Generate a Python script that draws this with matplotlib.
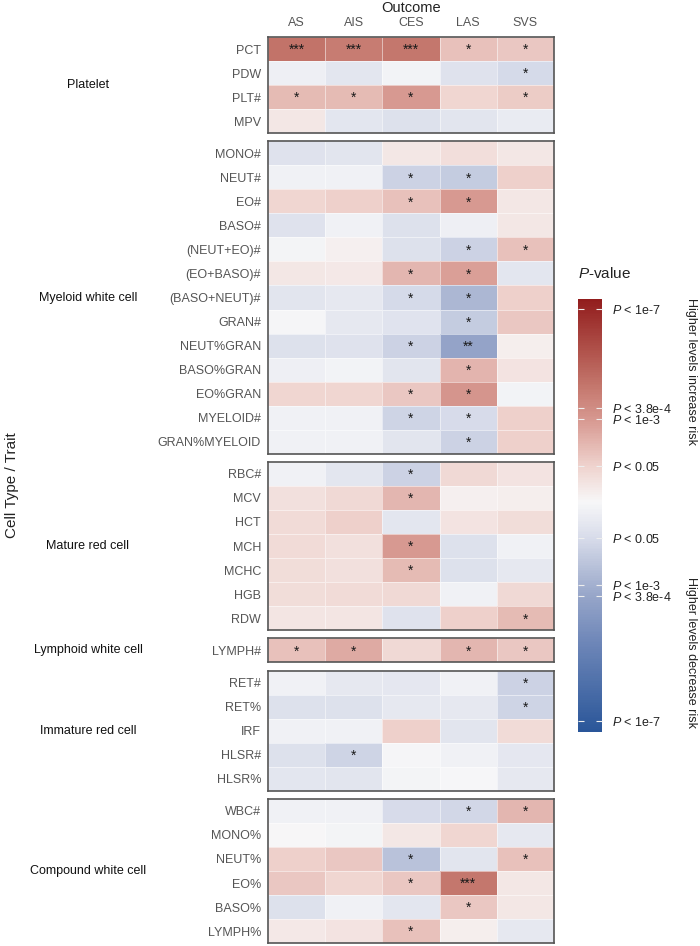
import numpy as np
import matplotlib
matplotlib.use("Agg")
import matplotlib.pyplot as plt
from matplotlib.colors import LinearSegmentedColormap, Normalize
from matplotlib.cm import ScalarMappable

plt.rcParams['font.family'] = ['Liberation Sans', 'DejaVu Sans']
plt.rcParams['mathtext.fontset'] = 'custom'
plt.rcParams['mathtext.it'] = 'Liberation Sans:italic'
plt.rcParams['mathtext.rm'] = 'Liberation Sans'

# outcomes (columns)
outcomes = ['AS', 'AIS', 'CES', 'LAS', 'SVS']

# groups and traits
group_names = ['Platelet', 'Myeloid white cell', 'Mature red cell',
               'Lymphoid white cell', 'Immature red cell', 'Compound white cell']

platelet_traits = ['PCT', 'PDW', 'PLT#', 'MPV']
myeloid_traits = ['MONO#', 'NEUT#', 'EO#', 'BASO#', '(NEUT+EO)#', '(EO+BASO)#',
                  '(BASO+NEUT)#', 'GRAN#', 'NEUT%GRAN', 'BASO%GRAN', 'EO%GRAN',
                  'MYELOID#', 'GRAN%MYELOID']
mature_traits = ['RBC#', 'MCV', 'HCT', 'MCH', 'MCHC', 'HGB', 'RDW']
lymphoid_traits = ['LYMPH#']
immature_traits = ['RET#', 'RET%', 'IRF', 'HLSR#', 'HLSR%']
compound_traits = ['WBC#', 'MONO%', 'NEUT%', 'EO%', 'BASO%', 'LYMPH%']

# signed -log10(P) (positive = higher levels increase risk)
platelet_vals = [[4.3, 4.0, 4.2, 1.8, 1.6],
                 [-0.4, -0.8, -0.2, -1.0, -1.4],
                 [2.0, 2.0, 3.0, 1.2, 1.5],
                 [0.6, -0.8, -1.1, -0.9, -0.6]]
myeloid_vals = [[-1.0, -0.9, 0.6, 0.9, 0.6],
                [-0.3, -0.25, -1.7, -1.9, 1.4],
                [1.2, 1.4, 1.8, 3.0, 0.6],
                [-1.0, -0.3, -1.1, -0.4, 0.6],
                [-0.15, 0.3, -1.1, -1.7, 1.8],
                [0.6, 0.5, 2.1, 2.8, -0.8],
                [-0.9, -0.7, -1.4, -2.7, 1.4],
                [-0.1, -0.7, -0.95, -1.9, 1.6],
                [-1.1, -1.0, -1.7, -3.5, 0.35],
                [-0.4, -0.2, -0.9, 2.2, 0.7],
                [1.2, 1.2, 1.6, 3.1, -0.2],
                [-0.25, -0.25, -1.6, -1.3, 1.4],
                [-0.25, -0.25, -0.9, -1.7, 1.35]]
mature_vals = [[-0.25, -0.8, -1.7, 1.1, 0.7],
               [0.8, 1.1, 2.1, 0.3, 0.35],
               [1.0, 1.4, -0.8, 0.7, 0.95],
               [1.0, 0.8, 3.0, -1.1, -0.25],
               [0.95, 0.85, 2.0, -1.05, -0.7],
               [0.95, 1.0, 1.1, -0.3, 1.1],
               [0.65, 0.65, -1.0, 1.4, 2.0]]
lymphoid_vals = [[1.8, 2.5, 1.1, 2.1, 1.6]]
immature_vals = [[-0.3, -0.7, -0.75, -0.3, -1.7],
                 [-1.1, -1.1, -0.7, -0.7, -1.6],
                 [-0.25, -0.25, 1.4, -0.9, 1.0],
                 [-1.1, -1.6, -0.1, -0.3, -0.75],
                 [-0.8, -0.9, -0.15, -0.05, -0.7]]
compound_vals = [[-0.25, -0.25, -1.3, -1.5, 2.1],
                 [0.0, -0.15, 0.6, 1.2, -0.7],
                 [1.4, 1.6, -2.3, -0.9, 1.8],
                 [1.6, 1.2, 1.6, 4.2, 0.6],
                 [-1.1, -0.25, -0.8, 1.6, 0.6],
                 [0.5, 0.7, 1.8, 0.35, -0.7]]

# significance stars
platelet_stars = [['***', '***', '***', '*', '*'],
                  ['', '', '', '', '*'],
                  ['*', '*', '*', '', '*'],
                  ['', '', '', '', '']]
myeloid_stars = [['', '', '', '', ''],
                 ['', '', '*', '*', ''],
                 ['', '', '*', '*', ''],
                 ['', '', '', '', ''],
                 ['', '', '', '*', '*'],
                 ['', '', '*', '*', ''],
                 ['', '', '*', '*', ''],
                 ['', '', '', '*', ''],
                 ['', '', '*', '**', ''],
                 ['', '', '', '*', ''],
                 ['', '', '*', '*', ''],
                 ['', '', '*', '*', ''],
                 ['', '', '', '*', '']]
mature_stars = [['', '', '*', '', ''],
                ['', '', '*', '', ''],
                ['', '', '', '', ''],
                ['', '', '*', '', ''],
                ['', '', '*', '', ''],
                ['', '', '', '', ''],
                ['', '', '', '', '*']]
lymphoid_stars = [['*', '*', '', '*', '*']]
immature_stars = [['', '', '', '', '*'],
                  ['', '', '', '', '*'],
                  ['', '', '', '', ''],
                  ['', '*', '', '', ''],
                  ['', '', '', '', '']]
compound_stars = [['', '', '', '*', '*'],
                  ['', '', '', '', ''],
                  ['', '', '*', '', '*'],
                  ['', '', '*', '***', ''],
                  ['', '', '', '*', ''],
                  ['', '', '*', '', '']]

# colorbar ticks
cbar_ticks = [7, 3.42, 3, 1.3, -1.3, -3, -3.42, -7.94]
cbar_labels = ['$P$ < 1e-7', '$P$ < 3.8e-4', '$P$ < 1e-3', '$P$ < 0.05',
               '$P$ < 0.05', '$P$ < 1e-3', '$P$ < 3.8e-4', '$P$ < 1e-7']

group_traits = [platelet_traits, myeloid_traits, mature_traits,
                lymphoid_traits, immature_traits, compound_traits]
group_vals = [platelet_vals, myeloid_vals, mature_vals,
              lymphoid_vals, immature_vals, compound_vals]
group_stars = [platelet_stars, myeloid_stars, mature_stars,
               lymphoid_stars, immature_stars, compound_stars]

# colormap
vmin, vmax = -8.33, 7.35
nodes = [(-8.33, '#2a5699'), (-5.0, '#7088b9'), (-3.4, '#97a6c9'),
         (-1.3, '#d8dcea'), (0.0, '#f7f7f8'), (1.3, '#efd3ce'),
         (3.0, '#d79890'), (4.2, '#c4776d'), (5.5, '#b0524b'), (7.35, '#921d1d')]
cmap = LinearSegmentedColormap.from_list(
    'pv', [((v - vmin) / (vmax - vmin), c) for v, c in nodes])
norm = Normalize(vmin=vmin, vmax=vmax)

W, H = 700, 946
fig = plt.figure(figsize=(7, 9.46), dpi=100)

x0, x1 = 268, 554
top = 37
row_h = 24.03
gap = 8.2
label_col = '#555555'

y = top
for gi, (gname, traits, vals, stars) in enumerate(zip(group_names, group_traits, group_vals, group_stars)):
    n = len(traits)
    h = n * row_h
    ax = fig.add_axes([x0 / W, 1 - (y + h) / H, (x1 - x0) / W, h / H])
    arr = np.array(vals)
    ax.pcolormesh(arr, cmap=cmap, norm=norm, edgecolors=(1, 1, 1, 0.5), linewidth=0.5)
    ax.set_xlim(0, 5)
    ax.set_ylim(n, 0)
    for r in range(n):
        for c in range(5):
            if stars[r][c]:
                ax.text(c + 0.5, r + 0.55, stars[r][c], ha='center', va='center',
                        fontsize=10, color='#1a1a1a')
    ax.set_yticks(np.arange(n) + 0.5)
    ax.set_yticklabels(traits, fontsize=9, color=label_col)
    ax.tick_params(axis='y', length=0, pad=5)
    if gi == 0:
        ax.xaxis.tick_top()
        ax.set_xticks(np.arange(5) + 0.5)
        ax.set_xticklabels(outcomes, fontsize=9, color=label_col)
        ax.tick_params(axis='x', length=0, pad=6)
        ax.xaxis.set_label_position('top')
        ax.set_xlabel('Outcome', fontsize=10.5, color='#222222', labelpad=3)
    else:
        ax.set_xticks([])
    for s in ax.spines.values():
        s.set_color('#555555')
        s.set_linewidth(1.2)
    fig.text(88 / W, 1 - (y + h / 2) / H, gname, ha='center', va='center',
             fontsize=9, color='#111111')
    y += h + gap

fig.text(12 / W, 1 - 485 / H, 'Cell Type / Trait', rotation=90, ha='center',
         va='center', fontsize=11, color='#222222')

# colorbar
cax = fig.add_axes([578 / W, 1 - 732 / H, 24 / W, 433 / H])
cb = fig.colorbar(ScalarMappable(norm=norm, cmap=cmap), cax=cax)
cb.outline.set_visible(False)
cb.set_ticks(cbar_ticks)
cb.set_ticklabels(cbar_labels)
cax.tick_params(direction='in', length=4, color='#eeeeee', width=0.8,
                left=True, right=True, labelsize=9, labelcolor='#222222', pad=7)
fig.text(578 / W, 1 - 274 / H, '$P$-value', ha='left', va='center',
         fontsize=11, color='#222222')
fig.text(691 / W, 1 - 372 / H, 'Higher levels increase risk', rotation=-90,
         ha='center', va='center', fontsize=9, color='#222222')
fig.text(691 / W, 1 - 652 / H, 'Higher levels decrease risk', rotation=-90,
         ha='center', va='center', fontsize=9, color='#222222')

fig.savefig('out.png', dpi=100)
